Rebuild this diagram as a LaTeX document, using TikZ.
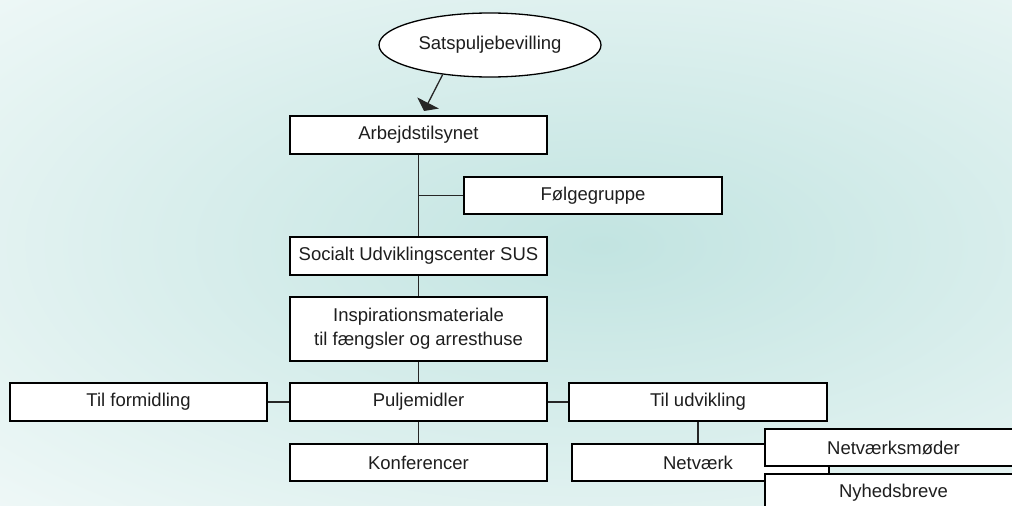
\documentclass[tikz,border=0pt]{standalone}
\usepackage{fontspec}
\setmainfont{Liberation Sans}
\usetikzlibrary{shapes.geometric,arrows.meta}
\definecolor{bgteal}{RGB}{194,228,225}
\definecolor{ink}{RGB}{30,30,30}
\tikzset{
  x=1pt, y=-1pt,
  box/.style={draw=black, line width=1.3pt, fill=white, minimum width=257pt, minimum height=38pt, inner sep=0pt, text=ink, font=\fontsize{18.5}{22}\selectfont, align=center},
  conn/.style={draw=black!85, line width=1.3pt},
}
\begin{document}
\begin{tikzpicture}
\useasboundingbox (0,0) rectangle (1012,506);
\clip (0,0) rectangle (1012,506);
\fill[white] (0,0) rectangle (1012,506);
\shade[inner color=bgteal, outer color=white] (600,245) ellipse [x radius=1150, y radius=520];

\node[draw=black, line width=1.3pt, fill=white, ellipse, minimum width=222pt, minimum height=64pt, inner sep=0pt, text=ink, font=\fontsize{18.5}{22}\selectfont] (ell) at (490,45) {Satspuljebevilling};
\coordinate (arrtip) at (424,111);
\draw[conn, -{Triangle[width=24pt,length=9pt]}] (ell.212) -- (arrtip);

\node[box] (arb) at (418.5,135) {Arbejdstilsynet};
\node[box, minimum height=37pt, minimum width=258pt] (folg) at (593,195.5) {Følgegruppe};
\node[box] (sus) at (418.5,256) {Socialt Udviklingscenter SUS};
\node[box, minimum height=64pt, line width=1.9pt, font=\fontsize{18.5}{24}\selectfont] (insp) at (418.5,329) {Inspirationsmateriale\\til fængsler og arresthuse};
\node[box] (pulj) at (418.5,402) {Puljemidler};
\node[box] (form) at (138.5,402) {Til formidling};
\node[box, minimum width=258pt] (udv) at (698,402) {Til udvikling};
\node[box, minimum height=37pt] (konf) at (418.5,462.5) {Konferencer};
\node[box, minimum height=37pt] (netv) at (700.5,462.5) {\hspace*{-5pt}Netværk};
\node[box, minimum height=37pt] (nmod) at (893.5,447.5) {Netværksmøder};
\node[box] (nyh) at (893.5,493) {Nyhedsbreve};

\draw[conn] (arb.south) -- (sus.north);
\draw[conn] (folg.west) -- (folg.west -| arb.south);
\draw[conn] (sus.south) -- (insp.north);
\draw[conn] (insp.south) -- (pulj.north);
\draw[conn] (form.east) -- (pulj.west);
\draw[conn] (pulj.east) -- (udv.west);
\draw[conn] (pulj.south) -- (konf.north);
\draw[conn] (udv.south) -- (udv.south |- netv.north);
\end{tikzpicture}
\end{document}
